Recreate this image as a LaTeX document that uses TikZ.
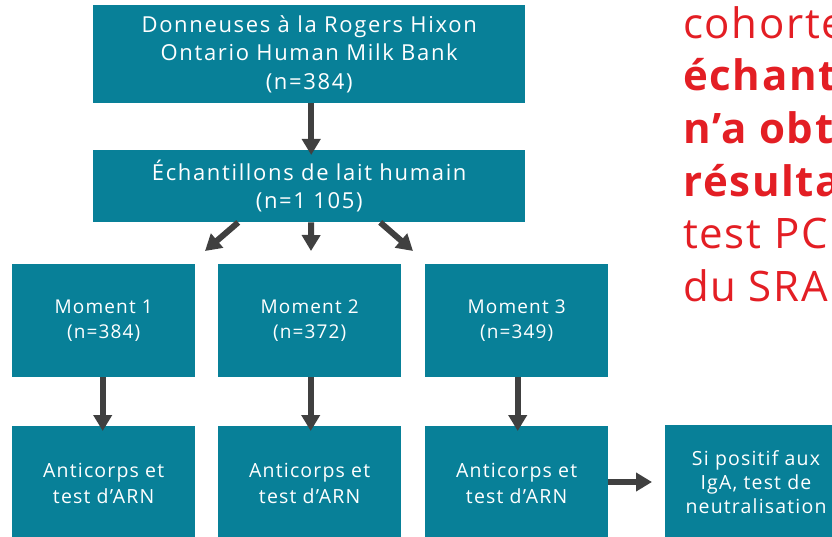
\documentclass[tikz,border=0pt]{standalone}
\usepackage{fontspec}
\setmainfont{Open Sans}
\newfontfamily\boxfont[LetterSpace=6]{Open Sans}
\newfontfamily\bigboxfont[LetterSpace=7.5]{Open Sans}
\newfontfamily\redfont[LetterSpace=4]{Open Sans}
\usetikzlibrary{arrows.meta,calc}
\definecolor{teal}{RGB}{8,128,152}
\definecolor{arrowgray}{RGB}{64,64,64}
\definecolor{redtxt}{RGB}{227,30,36}
\begin{document}
\begin{tikzpicture}[x=1pt,y=-1pt,
  box/.style={fill=teal,text=white,inner sep=0pt,align=center,anchor=north west},
  arr/.style={draw=arrowgray,line width=6pt,-{Triangle[width=18pt,length=16pt]}}]
\useasboundingbox (0,0) rectangle (832,537);
\clip (0,0) rectangle (832,537);
% boxes
\node[box,minimum width=432pt,minimum height=98pt,font=\bigboxfont\fontsize{22}{28.5}\selectfont] (top) at (93,5)
  {Donneuses à la Rogers Hixon\\Ontario Human Milk Bank\\(n=384)};
\node[box,minimum width=432pt,minimum height=72pt,font=\bigboxfont\fontsize{22}{28.5}\selectfont] (ech) at (93,150)
  {Échantillons de lait humain\\(n=1 105)};
\foreach \n/\x/\t in {m1/12/{Moment 1\\(n=384)},m2/218/{Moment 2\\(n=372)},m3/425/{Moment 3\\(n=349)}}
  \node[box,minimum width=183pt,minimum height=113pt,font=\boxfont\fontsize{19}{25}\selectfont] (\n) at (\x,264) {\t};
\foreach \n/\x in {b1/12,b2/218,b3/425}
  \node[box,minimum width=183pt,minimum height=115pt,font=\boxfont\fontsize{19.5}{26}\selectfont] (\n) at (\x,426) {Anticorps et\\test d’ARN};
\node[box,minimum width=183pt,minimum height=115pt] (b4) at (665,425) {};
\node[text=white,align=center,inner sep=0pt,font=\boxfont\fontsize{19.5}{24}\selectfont] (b4t) at (756,482) {Si positif aux\\IgA, test de\\neutralisation};
% arrows
\draw[arr] ([xshift=2pt]top.south) -- ([xshift=2pt,yshift=-5pt]ech.north);
\coordinate (d1) at (205,251);
\coordinate (d2) at (311,251);
\coordinate (d3) at (413,251);
\draw[arr] ([xshift=-71pt]ech.south) -- (d1);
\draw[arr] ([xshift=2pt]ech.south) -- (d2);
\draw[arr] ([xshift=71pt]ech.south) -- (d3);
\draw[arr] ([xshift=-1pt]m1.south) -- ([xshift=-1pt,yshift=-5pt]b1.north);
\draw[arr] ([xshift=1pt]m2.south) -- ([xshift=1pt,yshift=-5pt]b2.north);
\draw[arr] ([xshift=1pt]m3.south) -- ([xshift=1pt,yshift=-5pt]b3.north);
\draw[arr] (b3.east |- b4t) -- ([xshift=-13pt]b4.west |- b4t);
% red text (cut off at the right edge, as in the reference)
\node[anchor=north west,inner sep=0pt,text=redtxt,align=left,font=\redfont\fontsize{42}{52.7}\selectfont] (red) at (683,6)
  {cohorte\\\textbf{échant}\\\textbf{n’a obt}\\\textbf{résulta}\\test PC\\du SRA};
\end{tikzpicture}
\end{document}
